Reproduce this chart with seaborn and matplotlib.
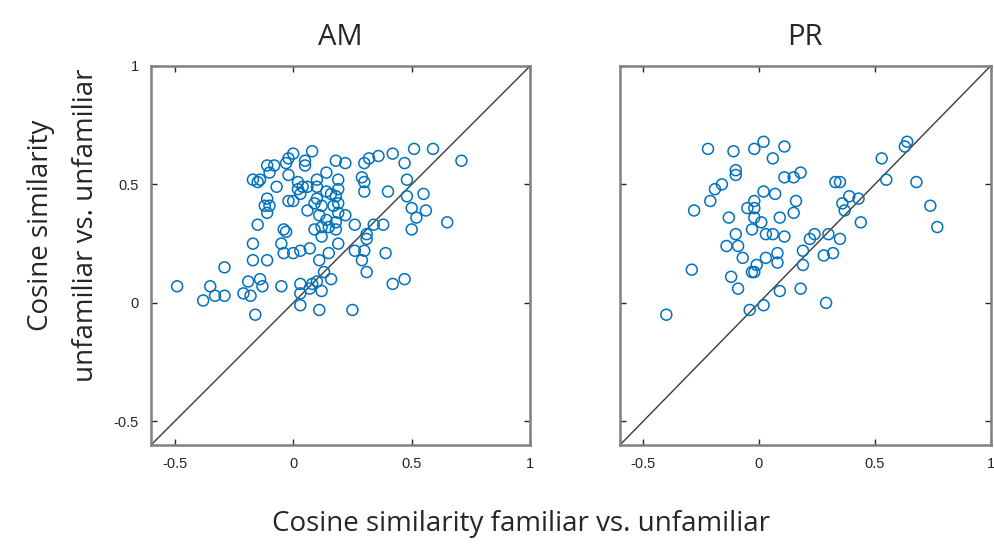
import matplotlib
matplotlib.use('Agg')
import matplotlib.pyplot as plt
import seaborn as sns
import numpy as np
import pandas as pd

# AM panel: familiar vs. unfamiliar (x), unfamiliar vs. unfamiliar (y)
am_x = [0.00, 0.08, -0.02, -0.03, -0.08, -0.11, 0.05, 0.05, 0.18, 0.14,
        0.10, -0.17, -0.14, -0.15, -0.07, -0.10, -0.02, 0.02, 0.02, 0.04,
        0.06, 0.03, -0.02, 0.00, -0.11, -0.12, -0.10, -0.11, 0.10, 0.14,
        0.16, 0.18, 0.10, 0.09, 0.12, 0.17, 0.06, 0.11, 0.14, 0.18,
        0.12, 0.15, 0.18, 0.19, -0.15, -0.04, 0.09, 0.51, 0.59, 0.42,
        0.36, 0.32, 0.30, 0.22, 0.47, 0.29, 0.30, 0.30, 0.40, 0.48,
        0.48, 0.55, 0.50, 0.56, 0.52, 0.19, 0.19, 0.19, 0.22, 0.26,
        0.34, 0.38, 0.50, 0.31, 0.71, 0.65, -0.03, 0.12, 0.19, -0.17,
        -0.05, -0.04, 0.00, 0.03, 0.07, 0.15, -0.17, -0.11, 0.11, 0.13,
        -0.19, -0.14, -0.13, -0.18, -0.05, 0.03, 0.03, 0.07, 0.08, 0.10,
        0.12, 0.16, 0.03, 0.11, -0.16, -0.49, -0.38, -0.35, -0.33, -0.29,
        -0.29, -0.21, 0.26, 0.30, 0.29, 0.31, 0.31, 0.39, 0.42, 0.47,
        0.25]
am_y = [0.63, 0.64, 0.61, 0.59, 0.58, 0.58, 0.60, 0.58, 0.60, 0.55,
        0.52, 0.52, 0.52, 0.51, 0.49, 0.55, 0.54, 0.51, 0.48, 0.49,
        0.49, 0.46, 0.43, 0.43, 0.44, 0.41, 0.41, 0.38, 0.49, 0.47,
        0.46, 0.45, 0.44, 0.42, 0.41, 0.41, 0.39, 0.37, 0.35, 0.34,
        0.32, 0.32, 0.31, 0.38, 0.33, 0.31, 0.31, 0.65, 0.65, 0.63,
        0.62, 0.61, 0.59, 0.59, 0.59, 0.53, 0.51, 0.47, 0.47, 0.52,
        0.45, 0.46, 0.40, 0.39, 0.36, 0.52, 0.48, 0.42, 0.37, 0.33,
        0.33, 0.33, 0.31, 0.29, 0.60, 0.34, 0.30, 0.28, 0.25, 0.25,
        0.25, 0.21, 0.21, 0.22, 0.23, 0.21, 0.18, 0.18, 0.18, 0.13,
        0.09, 0.10, 0.07, 0.03, 0.07, 0.08, 0.04, 0.06, 0.08, 0.09,
        0.05, 0.10, -0.01, -0.03, -0.05, 0.07, 0.01, 0.07, 0.03, 0.03,
        0.15, 0.04, 0.22, 0.22, 0.18, 0.27, 0.13, 0.21, 0.08, 0.10,
        -0.03]

# PR panel
pr_x = [-0.22, -0.11, -0.02, 0.02, 0.11, 0.06, -0.10, -0.10, 0.11, 0.15,
        0.18, -0.16, -0.19, -0.21, -0.28, 0.02, 0.07, -0.02, -0.02, -0.05,
        -0.02, 0.16, 0.15, 0.09, -0.13, 0.01, -0.03, -0.10, 0.03, 0.06,
        0.11, -0.14, -0.09, -0.07, 0.03, 0.08, 0.08, -0.01, -0.02, -0.12,
        -0.09, -0.29, -0.04, 0.02, 0.09, 0.18, 0.19, 0.19, 0.22, 0.24,
        0.30, 0.28, 0.32, 0.29, 0.33, 0.64, 0.63, 0.53, 0.55, 0.68,
        0.35, 0.39, 0.43, 0.36, 0.37, 0.74, 0.77, 0.44, 0.35, -0.40,
        -0.03]
pr_y = [0.65, 0.64, 0.65, 0.68, 0.66, 0.61, 0.56, 0.54, 0.53, 0.53,
        0.55, 0.50, 0.48, 0.43, 0.39, 0.47, 0.46, 0.43, 0.40, 0.40,
        0.36, 0.43, 0.38, 0.36, 0.36, 0.34, 0.31, 0.29, 0.29, 0.29,
        0.28, 0.24, 0.24, 0.19, 0.19, 0.21, 0.17, 0.16, 0.13, 0.11,
        0.06, 0.14, -0.03, -0.01, 0.05, 0.06, 0.16, 0.22, 0.27, 0.29,
        0.29, 0.20, 0.21, 0.00, 0.51, 0.68, 0.66, 0.61, 0.52, 0.51,
        0.51, 0.45, 0.44, 0.42, 0.39, 0.41, 0.32, 0.34, 0.27, -0.05,
        0.13]

panels = [('AM', am_x, am_y), ('PR', pr_x, pr_y)]
ticks = [-0.5, 0, 0.5, 1]
tick_labels = ['-0.5', '0', '0.5', '1']

sns.set_style('white')
plt.rcParams['font.family'] = ['Liberation Sans', 'DejaVu Sans']
plt.rcParams['axes.unicode_minus'] = False
label_font = ['Open Sans', 'DejaVu Sans']

fig = plt.figure(figsize=(9.95, 5.48), dpi=100)
ax_pos = [[0.1518, 0.188, 0.381, 0.6916],
          [0.6231, 0.188, 0.3724, 0.6916]]

for i, (name, xs, ys) in enumerate(panels):
    ax = fig.add_axes(ax_pos[i])
    df = pd.DataFrame({'x': xs, 'y': ys})
    ax.plot([-0.6, 1], [-0.6, 1], color='#3a3a3a', lw=1.0, zorder=1)
    sns.scatterplot(data=df, x='x', y='y', ax=ax, marker='o', s=62,
                    facecolor='none', edgecolor='#0072BD', linewidth=1.1,
                    zorder=2)
    ax.set_xlim(-0.6, 1)
    ax.set_ylim(-0.6, 1)
    ax.set_xticks(ticks)
    ax.set_xticklabels(tick_labels)
    ax.set_yticks(ticks)
    ax.set_yticklabels(tick_labels if i == 0 else [])
    ax.tick_params(direction='in', length=4, width=1, colors='#262626',
                   labelsize=10.5, top=True, right=True, pad=9,
                   bottom=True, left=True)
    for sp in ax.spines.values():
        sp.set_visible(True)
        sp.set_color('#808080')
        sp.set_linewidth(1.8)
    ax.set_xlabel('')
    ax.set_ylabel('')
    ax.set_title(name, fontsize=21, family=label_font, pad=15)

fig.text(0.524, 0.043, 'Cosine similarity familiar vs. unfamiliar',
         ha='center', va='center', fontsize=20, family=label_font)
fig.text(0.064, 0.589, 'Cosine similarity\nunfamiliar vs. unfamiliar',
         ha='center', va='center', rotation=90, fontsize=20, linespacing=1.8,
         multialignment='center', family=label_font)

fig.savefig('out.png', dpi=100)
